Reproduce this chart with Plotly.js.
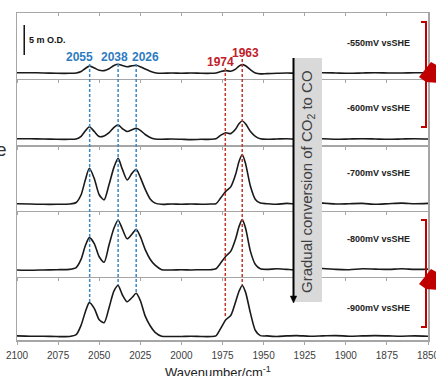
<!DOCTYPE html>
<html>
<head>
<meta charset="utf-8">
<script src="https://cdn.plot.ly/plotly-3.0.1.min.js"></script>
<style>html,body{margin:0;padding:0;background:#fff;}#chart{width:436px;height:376px;}</style>
</head>
<body>
<div id="chart"></div>
<script>
// Wavenumber grid (cm^-1)
const wavenumber = [2100, 2092, 2084, 2076, 2068, 2064, 2061, 2058.5, 2056, 2053, 2050, 2047, 2044, 2041, 2038.5, 2036, 2033, 2030, 2027.5, 2025, 2022, 2019, 2016, 2012, 2006, 2000, 1994, 1988, 1982, 1979, 1976, 1973, 1970, 1967, 1965, 1963, 1961, 1958, 1955, 1952, 1948, 1942, 1936, 1930, 1922, 1914, 1906, 1898, 1890, 1882, 1874, 1866, 1858, 1850];

// Absorbance (mOD) for each potential
const abs550 = [0.1, 0.1, 0.05, 0.0, 0.0, 0.05, 0.3, 0.8, 1.2, 0.9, 0.5, 0.45, 0.75, 1.3, 1.5, 1.3, 1.1, 1.25, 1.33, 1.1, 0.7, 0.35, 0.1, 0.0, 0.05, 0.0, 0.05, 0.0, 0.0, 0.05, 0.3, 0.45, 0.35, 0.7, 1.2, 1.45, 1.25, 0.6, 0.05, -0.1, -0.05, 0.0, 0.05, 0.0, 0.05, 0.1, 0.05, 0.0, 0.05, 0.1, 0.05, 0.05, 0.1, 0.1];
const abs600 = [0.1, 0.1, 0.05, 0.0, 0.0, 0.05, 0.5, 1.4, 2.1, 1.3, 0.45, 0.55, 1.1, 2.0, 2.4, 1.8, 1.3, 1.6, 1.85, 1.5, 0.8, 0.3, 0.05, 0.0, 0.05, 0.0, -0.05, 0.0, 0.0, 0.1, 0.7, 1.1, 0.95, 1.7, 2.6, 3.05, 2.6, 1.3, 0.5, 0.1, 0.0, 0.05, 0.1, 0.0, 0.05, 0.1, 0.0, 0.05, 0.1, 0.05, 0.0, 0.05, 0.1, 0.05];
const abs700 = [0.1, 0.05, 0.0, 0.0, 0.05, 0.3, 1.6, 4.0, 6.0, 4.3, 1.6, 0.75, 3.3, 6.2, 7.65, 5.9, 4.05, 5.2, 5.85, 4.5, 2.5, 0.9, 0.2, 0.0, 0.05, 0.0, 0.05, 0.0, 0.05, 0.1, 1.1, 2.15, 2.9, 5.0, 7.1, 8.3, 6.8, 3.0, 0.8, 0.2, 0.1, 0.0, 0.15, 0.05, 0.1, 0.2, 0.05, 0.1, 0.15, 0.0, 0.1, 0.2, 0.1, 0.15];
const abs800 = [0.0, -0.05, 0.0, 0.05, 0.1, 0.4, 1.8, 4.0, 5.4, 4.4, 2.2, 1.3, 4.2, 7.0, 8.3, 6.9, 5.2, 6.0, 6.8, 5.6, 3.4, 1.8, 0.8, 0.05, 0.0, 0.05, 0.0, 0.05, 0.05, 0.2, 1.2, 2.3, 3.1, 5.2, 7.2, 8.4, 7.0, 3.1, 0.9, 0.2, 0.1, 0.2, 0.1, 0.0, 0.15, 0.25, 0.1, 0.05, 0.2, 0.15, 0.1, 0.2, 0.1, 0.15];
const abs900 = [0.1, 0.05, 0.05, 0.0, 0.0, 0.3, 1.9, 4.05, 5.65, 4.7, 2.8, 2.3, 4.8, 7.6, 8.5, 7.0, 5.8, 6.5, 7.2, 6.0, 3.4, 1.8, 0.7, 0.05, 0.0, 0.0, 0.05, 0.0, 0.0, 0.1, 1.4, 2.8, 3.5, 5.8, 7.5, 8.5, 7.4, 3.9, 1.0, 0.15, 0.1, 0.0, 0.1, 0.15, 0.05, 0.1, 0.15, 0.05, 0.1, 0.15, 0.1, 0.05, 0.1, 0.05];

const seriesList = [abs550, abs600, abs700, abs800, abs900];
const potentialLabels = ['-550mV vsSHE', '-600mV vsSHE', '-700mV vsSHE', '-800mV vsSHE', '-900mV vsSHE'];

// Peak markers
const bluePeaks = [2055.8, 2038.5, 2027.5];
const bluePeakLabels = ['2055', '2038', '2026'];
const redPeaks = [1973.3, 1963];
const redPeakLabels = ['1974', '1963'];

const tickValues = [2100, 2075, 2050, 2025, 2000, 1975, 1950, 1925, 1900, 1875, 1850];

// ---- layout geometry ----
const W = 436, H = 376;
const M = {l: 17, r: 8, t: 13, b: 36};
const plotH = H - M.t - M.b;
const plotW = W - M.l - M.r;
const py = (px) => (H - M.b - px) / plotH;     // pixel y -> paper y
const pxp = (px) => (px - M.l) / plotW;        // pixel x -> paper x

const domains = [[0.7982, 1], [0.5963, 0.7982], [0.3960, 0.5963], [0.1936, 0.3960], [0, 0.1936]];
const ranges = [[-0.95, 10.05], [-0.95, 10.05], [-1.03, 9.88], [-1.12, 9.92], [-0.58, 9.97]];

const FONT = 'Arial, "Liberation Sans", sans-serif';
const GRID = '#a6a6a6';

const traces = seriesList.map((s, i) => ({
  x: wavenumber, y: s, type: 'scatter', mode: 'lines',
  xaxis: i === 4 ? 'x' : 'x' + (i + 2),
  yaxis: i === 0 ? 'y' : 'y' + (i + 1),
  line: {color: '#1a1a1a', width: 1.6, shape: 'spline', smoothing: 0.7},
  hoverinfo: 'skip', showlegend: false
}));
// empty trace so the top tick axis is drawn
traces.push({x: [], y: [], type: 'scatter', mode: 'lines', xaxis: 'x6', yaxis: 'y', showlegend: false, hoverinfo: 'skip'});

const layout = {
  width: W, height: H,
  margin: M,
  paper_bgcolor: '#fff', plot_bgcolor: '#fff',
  showlegend: false,
  font: {family: FONT, color: '#222'},
  shapes: [], annotations: []
};

layout.xaxis = {
  range: [2100, 1850], anchor: 'y5', tickvals: tickValues,
  ticks: 'outside', ticklen: 3, tickcolor: GRID, tickwidth: 1,
  showline: true, linecolor: GRID, linewidth: 1.5,
  showgrid: false, zeroline: false,
  tickfont: {size: 10, color: '#404040', family: FONT},
  ticklabelstandoff: 2, ticklabeloverflow: 'allow'
};
for (let i = 0; i < 4; i++) {
  layout['xaxis' + (i + 2)] = {
    matches: 'x', range: [2100, 1850], anchor: i === 0 ? 'y' : 'y' + (i + 1),
    tickvals: tickValues, ticks: 'outside', ticklen: 3, tickcolor: GRID, tickwidth: 1,
    showline: true, linecolor: GRID, linewidth: 1.5,
    showgrid: false, zeroline: false, showticklabels: false
  };
}
layout.xaxis6 = {
  range: [2100, 1850], anchor: 'y', side: 'top', overlaying: 'x2',
  tickvals: tickValues, ticks: 'inside', ticklen: 3, tickcolor: GRID, tickwidth: 1,
  showline: true, linecolor: GRID, linewidth: 1.5,
  showgrid: false, zeroline: false, showticklabels: false
};
for (let i = 0; i < 5; i++) {
  const key = i === 0 ? 'yaxis' : 'yaxis' + (i + 1);
  layout[key] = {
    domain: domains[i], range: ranges[i], anchor: i === 4 ? 'x' : 'x' + (i + 2),
    showline: true, mirror: true, linecolor: GRID, linewidth: 1.5,
    showticklabels: false, ticks: '', showgrid: false, zeroline: false
  };
}

function ann(o) {
  return Object.assign({showarrow: false, xanchor: 'center', yanchor: 'middle'}, o);
}

// potential labels
const labelY = [42.7, 108.3, 173, 239, 307.7];
potentialLabels.forEach((t, i) => {
  layout.annotations.push(ann({
    text: '<b>' + t + '</b>', xref: 'paper', yref: 'paper',
    x: pxp(378), y: py(labelY[i]),
    font: {size: 9, color: '#222', family: FONT}
  }));
});

// dashed peak lines
const blueTop = [64, 64, 64], blueBottom = [302, 285, 292.7];
bluePeaks.forEach((p, i) => {
  layout.shapes.push({type: 'line', xref: 'x', yref: 'paper', x0: p, x1: p,
    y0: py(blueTop[i]), y1: py(blueBottom[i]),
    line: {color: '#3b86c6', width: 1.5, dash: '3px,2px'}});
});
const redTop = [68, 59], redBottom = [316, 285];
redPeaks.forEach((p, i) => {
  layout.shapes.push({type: 'line', xref: 'x', yref: 'paper', x0: p, x1: p,
    y0: py(redTop[i]), y1: py(redBottom[i]),
    line: {color: '#c0392b', width: 1.5, dash: '3px,2px'}});
});

// peak labels
const blueLabelX = [2062.1, 2040.8, 2021.7];
bluePeakLabels.forEach((t, i) => {
  layout.annotations.push(ann({text: '<b>' + t + '</b>', xref: 'x', yref: 'paper',
    x: blueLabelX[i], y: py(57),
    font: {size: 12, color: '#2e7bbf', family: FONT}}));
});
const redLabelX = [1976.2, 1961.1], redLabelY = [62.5, 52.5];
redPeakLabels.forEach((t, i) => {
  layout.annotations.push(ann({text: '<b>' + t + '</b>', xref: 'x', yref: 'paper',
    x: redLabelX[i], y: py(redLabelY[i]),
    font: {size: 12, color: '#c0202a', family: FONT}}));
});

// scale bar (5 mOD in panel 1 units)
layout.shapes.push({type: 'line', xref: 'x', yref: 'y', x0: 2095.6, x1: 2095.6, y0: 3.05, y1: 8.05,
  line: {color: '#111', width: 1.5}});
layout.annotations.push(ann({text: '<b>5 m O.D.</b>', xref: 'x', yref: 'y', x: 2094, y: 5.55,
  xanchor: 'left', font: {size: 9, color: '#111', family: FONT}}));

// grey box with arrow and text
layout.shapes.push({type: 'rect', xref: 'paper', yref: 'paper',
  x0: pxp(293), x1: pxp(322), y0: py(302), y1: py(58),
  fillcolor: '#d9d9d9', line: {width: 0}, layer: 'above'});
layout.shapes.push({type: 'line', xref: 'paper', yref: 'paper',
  x0: pxp(293.5), x1: pxp(293.5), y0: py(58), y1: py(297),
  line: {color: '#000', width: 2}});
layout.shapes.push({type: 'path', xref: 'paper', yref: 'paper',
  path: `M ${pxp(290.3)} ${py(296)} L ${pxp(296.7)} ${py(296)} L ${pxp(293.5)} ${py(303)} Z`,
  fillcolor: '#000', line: {color: '#000', width: 0.5}});
layout.annotations.push(ann({text: 'Gradual conversion of CO<sub>2</sub> to CO', textangle: -90,
  xref: 'paper', yref: 'paper', x: pxp(307.5), y: py(181.5),
  font: {size: 15, color: '#404040', family: FONT}}));

// red brackets and arrow tips at right edge
const brackets = [[22, 127], [220, 327]];
brackets.forEach(b => {
  layout.shapes.push({type: 'path', xref: 'paper', yref: 'paper',
    path: `M ${pxp(421)} ${py(b[0])} L ${pxp(426)} ${py(b[0])} L ${pxp(426)} ${py(b[1])} L ${pxp(421)} ${py(b[1])}`,
    line: {color: '#c00000', width: 2}});
});
const tips = [73, 280];
tips.forEach(c => {
  layout.shapes.push({type: 'path', xref: 'paper', yref: 'paper',
    path: `M ${pxp(419)} ${py(c + 4)} L ${pxp(431)} ${py(c - 11)} L ${pxp(440)} ${py(c - 6)} L ${pxp(440)} ${py(c + 10)} L ${pxp(426)} ${py(c + 9)} Z`,
    fillcolor: '#c00000', line: {width: 0}});
});

// cropped left-edge text fragment
layout.annotations.push(ann({text: 'e', xref: 'paper', yref: 'paper', x: pxp(1.5), y: py(149),
  font: {size: 19, color: '#333', family: FONT}}));

// x axis title
layout.annotations.push(ann({text: 'Wavenumber/cm<sup>-1</sup>', xref: 'paper', yref: 'paper',
  x: pxp(218), y: py(362), yanchor: 'top',
  font: {size: 13, color: '#222', family: FONT}}));

Plotly.newPlot('chart', traces, layout, {staticPlot: true, displayModeBar: false});
</script>
</body>
</html>
